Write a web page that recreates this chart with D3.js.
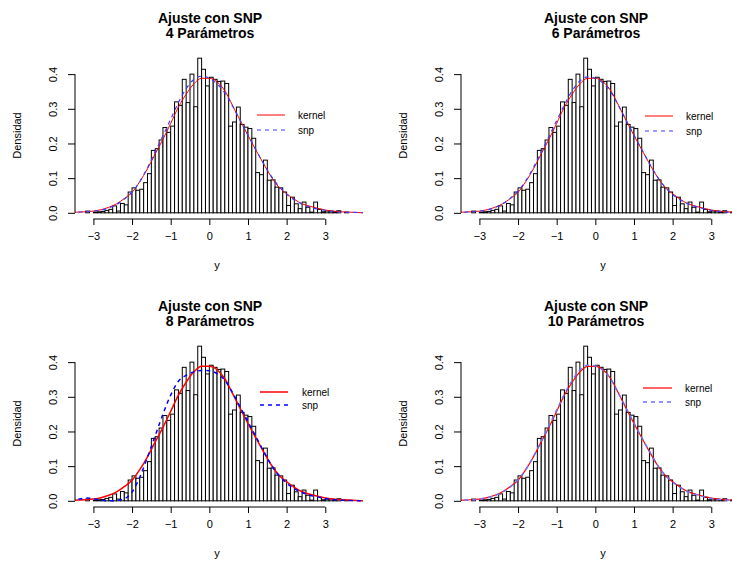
<!DOCTYPE html>
<html><head><meta charset="utf-8">
<script src="https://cdn.jsdelivr.net/npm/d3@7"></script>
<style>body{margin:0;background:#fff}svg{display:block;font-family:"Liberation Sans",Arial,sans-serif}</style>
</head><body><svg id="c" width="732" height="561"></svg>
<script>
// ---- data ----
const breakStart = -3.2, binWidth = 0.1;
const histDensity = [0.005,0.000,0.002,0.003,0.004,0.007,0.010,0.020,0.005,0.027,0.023,
  0.060,0.072,0.065,0.068,0.087,0.113,0.180,0.185,0.210,0.246,0.232,0.250,
  0.320,0.310,0.385,0.318,0.400,0.306,0.446,0.414,0.366,0.391,0.385,0.379,
  0.380,0.373,0.250,0.262,0.305,0.255,0.247,0.243,0.215,0.116,0.110,0.152,
  0.094,0.095,0.074,0.072,0.060,0.021,0.045,0.026,0.012,0.031,0.016,0.002,
  0.031,0.010,0.003,0.005,0.005,0.003,0.006,0.000,0.002,0.000];
const gridX = [-3.8,-3.6,-3.4,-3.2,-3.0,-2.8,-2.6,-2.4,-2.2,-2.0,-1.8,-1.6,-1.4,-1.2,-1.0,-0.8,-0.6,-0.4,-0.2,0.0,
  0.2,0.4,0.6,0.8,1.0,1.2,1.4,1.6,1.8,2.0,2.2,2.4,2.6,2.8,3.0,3.2,3.4,3.6,3.8,4.0];
const kernel = [0.000,0.001,0.002,0.003,0.005,0.009,0.016,0.026,0.041,0.059,0.090,0.127,0.170,0.212,0.258,0.305,0.342,0.372,0.388,0.388,
  0.378,0.352,0.310,0.266,0.223,0.182,0.142,0.104,0.074,0.055,0.039,0.026,0.019,0.013,0.008,0.005,0.003,0.002,0.001,0.000];
const snp4 = [0.000,0.001,0.002,0.003,0.005,0.008,0.014,0.024,0.040,0.060,0.090,0.130,0.176,0.222,0.270,0.318,0.358,0.385,0.394,0.388,
  0.372,0.346,0.308,0.266,0.224,0.183,0.143,0.106,0.077,0.054,0.037,0.025,0.017,0.011,0.007,0.004,0.002,0.001,0.001,0.000];
const snp6 = [0.000,0.001,0.002,0.003,0.005,0.008,0.015,0.026,0.042,0.063,0.092,0.131,0.175,0.220,0.266,0.312,0.352,0.380,0.392,0.388,
  0.374,0.348,0.309,0.266,0.224,0.183,0.142,0.105,0.075,0.053,0.037,0.026,0.018,0.012,0.007,0.004,0.002,0.001,0.001,0.000];
const snp8 = [0.000,0.001,0.004,0.008,0.006,0.002,0.000,0.001,0.006,0.025,0.068,0.126,0.188,0.250,0.305,0.345,0.362,0.372,0.376,0.375,
  0.367,0.348,0.312,0.270,0.228,0.186,0.144,0.104,0.073,0.051,0.035,0.024,0.016,0.011,0.007,0.004,0.002,0.001,0.000,0.000];
const snp10 = [0.000,0.001,0.002,0.003,0.005,0.009,0.015,0.025,0.040,0.061,0.090,0.128,0.172,0.216,0.262,0.308,0.347,0.377,0.391,0.389,
  0.376,0.350,0.310,0.267,0.224,0.183,0.143,0.105,0.075,0.054,0.038,0.026,0.018,0.012,0.007,0.004,0.002,0.001,0.001,0.000];
const xTicks = [-3,-2,-1,0,1,2,3];
const yTicks = [0.0,0.1,0.2,0.3,0.4];
const titleMain = "Ajuste con SNP";
const titleSubs = ["4 Parámetros","6 Parámetros","8 Parámetros","10 Parámetros"];
const legendLabels = ["kernel","snp"];

// ---- layout ----
const panels = [
  {ox:0,   oy:0,   snp:snp4,  lg:{x1:257,x2:285,y1:115,y2:130,tx:298}, kw:1,   sw:1.2, sc:"#3b3bff"},
  {ox:386, oy:0,   snp:snp6,  lg:{x1:259,x2:287,y1:116,y2:131,tx:300}, kw:1,   sw:1.2, sc:"#3b3bff"},
  {ox:0,   oy:288, snp:snp8,  lg:{x1:260,x2:288,y1:104,y2:117,tx:302}, kw:1.5, sw:1.5, sc:"#0000ff"},
  {ox:386, oy:288, snp:snp10, lg:{x1:257,x2:286,y1:100,y2:114,tx:299}, kw:1.2, sw:1.5, sc:"#7070ff"}
];
const L=75, R=363, T=52, B=219;
const font = '"Liberation Sans",Arial,sans-serif';
const svg = d3.select("#c");
const xLo = breakStart, xHi = breakStart + histDensity.length*binWidth;
const xPad = (xHi-xLo)*0.04;
const yMax = d3.max(histDensity), yPad = yMax*0.04;
const x = d3.scaleLinear().domain([xLo-xPad, xHi+xPad]).range([L,R]);
const y = d3.scaleLinear().domain([-yPad, yMax+yPad]).range([B,T]);

panels.forEach((p,i)=>{
  const g = svg.append("g").attr("transform",`translate(${p.ox},${p.oy})`);
  const cid = "clip"+i;
  g.append("clipPath").attr("id",cid).append("rect").attr("x",L).attr("y",T).attr("width",R-L).attr("height",B-T);
  const plot = g.append("g").attr("clip-path",`url(#${cid})`);
  // histogram
  plot.selectAll("rect.bar").data(histDensity).enter().append("rect")
    .attr("x",(d,k)=>x(breakStart+k*binWidth))
    .attr("width",(d,k)=>x(breakStart+(k+1)*binWidth)-x(breakStart+k*binWidth))
    .attr("y",d=>y(d)).attr("height",d=>y(0)-y(d))
    .attr("fill","#fff").attr("stroke","#000").attr("stroke-width",1);
  const line = d3.line().x((d,k)=>x(gridX[k])).y(d=>y(d)).curve(d3.curveMonotoneX);
  plot.append("path").attr("d",line(kernel)).attr("fill","none").attr("stroke","#ff0000").attr("stroke-width",p.kw);
  plot.append("path").attr("d",line(p.snp)).attr("fill","none").attr("stroke",p.sc).attr("stroke-width",p.sw).attr("stroke-dasharray","4,4");
  // axes
  const xa = g.append("g").attr("transform",`translate(0,${B})`)
    .call(d3.axisBottom(x).tickValues(xTicks).tickSize(6).tickSizeOuter(0).tickPadding(7).tickFormat(d=>d<0?"−"+Math.abs(d):String(d)));
  xa.select(".domain").attr("d",`M${x(xTicks[0])},0H${x(xTicks[xTicks.length-1])}`);
  xa.selectAll("text").attr("font-size",11).attr("font-family",font).attr("fill","#000");
  const ya = g.append("g").attr("transform",`translate(${L},0)`)
    .call(d3.axisLeft(y).tickValues(yTicks).tickSize(7).tickSizeOuter(0).tickFormat(d3.format(".1f")));
  ya.select(".domain").attr("d",`M0,${y(yTicks[0])}V${y(yTicks[yTicks.length-1])}`);
  ya.selectAll(".tick text").attr("font-size",11).attr("font-family",font).attr("fill","#000")
    .attr("x",0).attr("dy",0).attr("text-anchor","middle")
    .attr("transform","translate(-18,0) rotate(-90)");
  // labels
  g.append("text").attr("x",217).attr("y",269).attr("text-anchor","middle").attr("font-size",11).attr("font-family",font).text("y");
  g.append("text").attr("transform",`translate(21,${(T+B)/2}) rotate(-90)`).attr("text-anchor","middle").attr("font-size",11).attr("font-family",font).text("Densidad");
  g.append("text").attr("x",210).attr("y",23).attr("text-anchor","middle").attr("font-size",14).attr("font-weight","bold").attr("font-family",font).text(titleMain);
  g.append("text").attr("x",210).attr("y",38).attr("text-anchor","middle").attr("font-size",14).attr("font-weight","bold").attr("font-family",font).text(titleSubs[i]);
  // legend
  const lg = p.lg;
  g.append("line").attr("x1",lg.x1).attr("x2",lg.x2).attr("y1",lg.y1).attr("y2",lg.y1).attr("stroke","#ff0000").attr("stroke-width",p.kw);
  g.append("line").attr("x1",lg.x1).attr("x2",lg.x2).attr("y1",lg.y2).attr("y2",lg.y2).attr("stroke",p.sc).attr("stroke-width",p.sw).attr("stroke-dasharray","4,4");
  g.append("text").attr("x",lg.tx).attr("y",lg.y1).attr("dy","0.35em").attr("font-size",10).attr("font-family",font).text(legendLabels[0]);
  g.append("text").attr("x",lg.tx).attr("y",lg.y2).attr("dy","0.35em").attr("font-size",10).attr("font-family",font).text(legendLabels[1]);
});
</script></body></html>
